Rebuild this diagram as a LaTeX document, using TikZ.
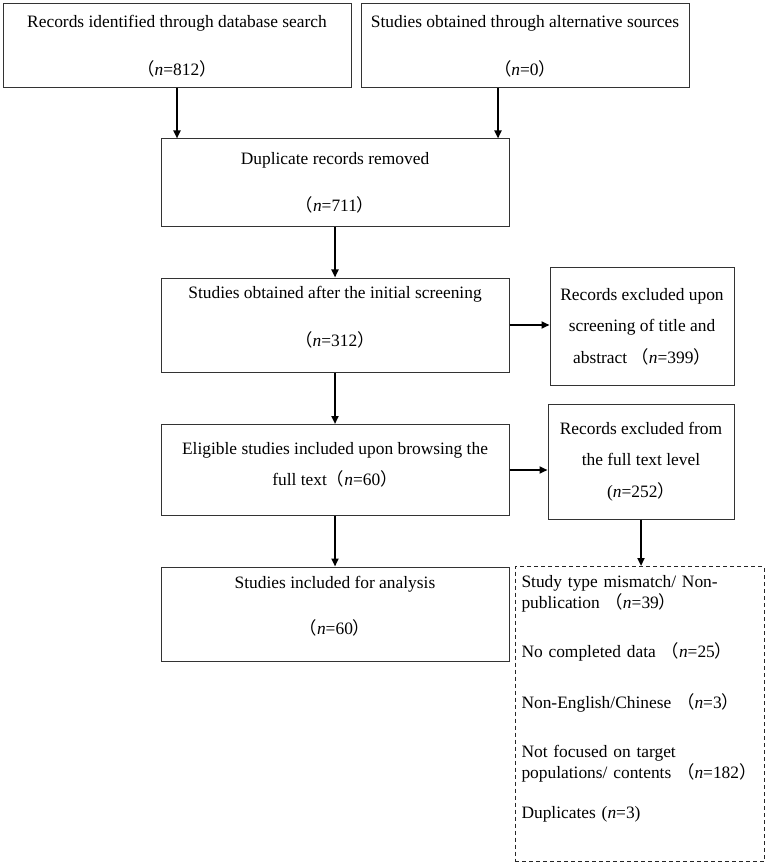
\documentclass[tikz,border=0pt]{standalone}
\usepackage{fontspec}
\setmainfont{Liberation Serif}
\newfontfamily\cjk{Noto Sans CJK SC}
\usetikzlibrary{arrows.meta}

\newcommand{\cnlp}{{\cjk （}}
\newcommand{\cnrp}{{\cjk ）}}

\begin{document}
\begin{tikzpicture}[x=1pt, y=-1pt, >={Triangle[length=8pt, width=7pt]}, every node/.style={
    rectangle,
    draw=black!80,
    line width=1pt,
    inner sep=0pt,
    align=center,
    font=\fontsize{17.4}{20}\selectfont
}]

    \useasboundingbox (0,0) rectangle (767,866);


    \node (records_database) [shift={(177, 46)}, minimum width=348pt, minimum height=84pt]
    {
        Records identified through database search\\[28pt]\cnlp\textit{n}=812\cnrp
    };

    \node (studies_alternative) [shift={(525, 46)}, minimum width=328pt, minimum height=84pt]
    {
        Studies obtained through alternative sources\\[28pt]\cnlp\textit{n}=0\cnrp
    };

    \node (duplicates_removed) [shift={(335, 183)}, minimum width=348pt, minimum height=88pt]
    {
        Duplicate records removed\\[27pt]\cnlp\textit{n}=711\cnrp
    };

    \node (initial_screening) [shift={(335, 325)}, minimum width=348pt, minimum height=94pt]
    {
        Studies obtained after the initial screening\\[28pt]\cnlp\textit{n}=312\cnrp\\[-2pt]\mbox{}
    };

    \node (eligible_full_text) [shift={(335, 470)}, minimum width=348pt, minimum height=91pt]
    {
        Eligible studies included upon browsing the\\[11pt]full text\cnlp\textit{n}=60\cnrp\\[-8pt]\mbox{}
    };

    \node (studies_analysis) [shift={(335, 614)}, minimum width=348pt, minimum height=94pt]
    {
        Studies included for analysis\\[26pt]\cnlp\textit{n}=60\cnrp\\[-2pt]\mbox{}
    };





    \node (excluded_title_abstract) [shift={(642, 326.5)}, minimum width=184pt, minimum height=117pt]
    {
        Records excluded upon\\[11.5pt]screening of title and\\[11.5pt]abstract \cnlp\textit{n}=399\cnrp
    };

    \node (excluded_full_text) [shift={(641, 461.5)}, minimum width=186pt, minimum height=115pt]
    {
        Records excluded from\\[11.5pt]the full text level\\[11.5pt](\textit{n}=252\cnrp
    };

    \node (excluded_reasons) [anchor=north, shift={(639.5, 566)}, draw=black!85, dash pattern=on 4pt off 3pt,
        inner xsep=6.5pt, inner ysep=9pt, text width=236pt, text height=12pt, text depth=265pt, align=left]
    {
        Study type mismatch/ Non-\\[1pt]publication \cnlp\textit{n}=39\cnrp\\[29pt]No completed data \cnlp\textit{n}=25\cnrp\\[31pt]Non-English/Chinese \cnlp\textit{n}=3\cnrp\\[29pt]Not focused on target\\[1pt]\mbox{populations/ contents \cnlp\textit{n}=182\cnrp}\\[20pt]Duplicates (\textit{n}=3)
    };


    \draw[->, line width=2pt] (records_database.south) to (records_database.south |- duplicates_removed.north);
    \draw[->, line width=2pt] ([xshift=-27pt]studies_alternative.south) to ([xshift=-27pt]studies_alternative.south |- duplicates_removed.north);
    \draw[->, line width=2pt] (duplicates_removed) to (initial_screening);
    \draw[->, line width=2pt] (initial_screening) to (eligible_full_text);
    \draw[->, line width=2pt] (eligible_full_text) to (studies_analysis);
    \draw[->, line width=2pt] (initial_screening.east) to (initial_screening.east -| excluded_title_abstract.west);
    \draw[->, line width=2pt] (eligible_full_text.east) to (eligible_full_text.east -| excluded_full_text.west);
    \draw[->, line width=2pt] (excluded_full_text.south) to (excluded_full_text.south |- excluded_reasons.north);


\end{tikzpicture}
\end{document}
